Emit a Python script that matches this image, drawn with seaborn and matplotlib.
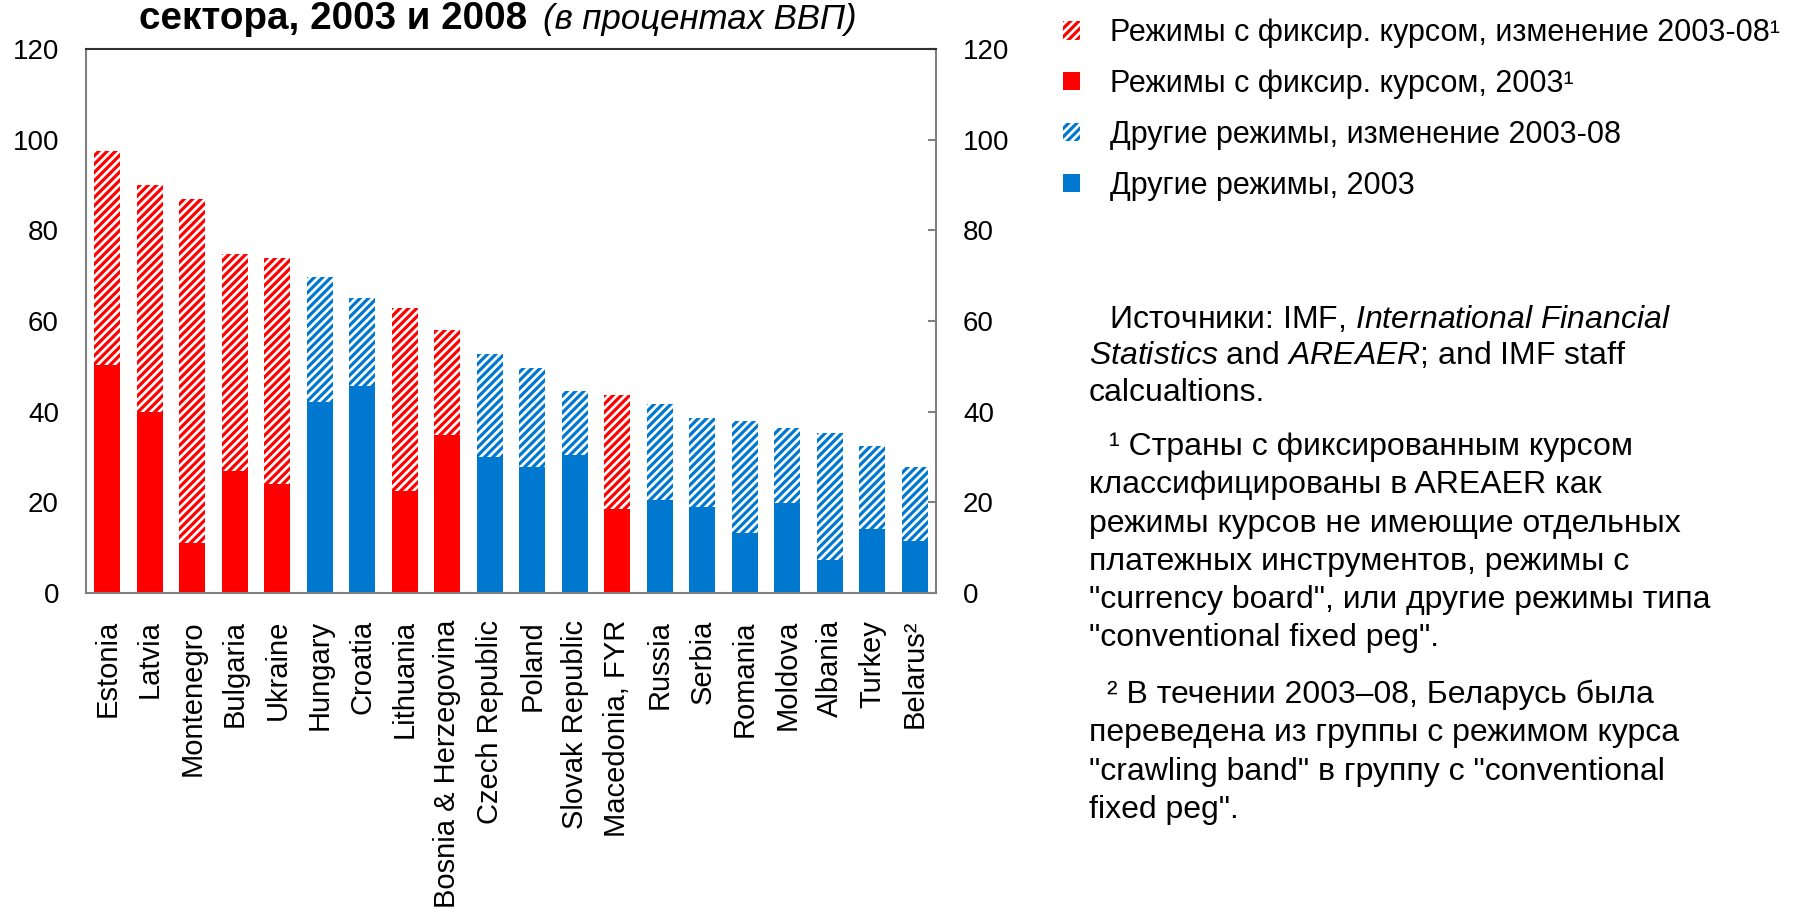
import matplotlib
matplotlib.use('Agg')
import matplotlib.pyplot as plt
from matplotlib.patches import Patch
import pandas as pd
import seaborn as sns

# data (percent of GDP)
countries = ['Estonia', 'Latvia', 'Montenegro', 'Bulgaria', 'Ukraine', 'Hungary', 'Croatia',
             'Lithuania', 'Bosnia & Herzegovina', 'Czech Republic', 'Poland', 'Slovak Republic',
             'Macedonia, FYR', 'Russia', 'Serbia', 'Romania', 'Moldova', 'Albania', 'Turkey',
             'Belarus²']
regimes = ['fixed', 'fixed', 'fixed', 'fixed', 'fixed', 'other', 'other', 'fixed', 'fixed',
           'other', 'other', 'other', 'fixed', 'other', 'other', 'other', 'other', 'other',
           'other', 'other']
credit_2003 = [50.3, 39.9, 11.1, 26.9, 24.1, 42.1, 45.6, 22.6, 34.9, 30.1,
               27.9, 30.5, 18.6, 20.6, 19.0, 13.3, 19.9, 7.2, 14.2, 11.4]
credit_2008 = [97.4, 90.1, 87.0, 74.7, 74.0, 69.8, 65.0, 62.8, 58.1, 52.7,
               49.7, 44.5, 43.6, 41.6, 38.7, 37.9, 36.5, 35.2, 32.4, 27.7]
y_ticks = [0, 20, 40, 60, 80, 100, 120]

legend_labels = ['Режимы с фиксир. курсом, изменение 2003-08¹',
                 'Режимы с фиксир. курсом, 2003¹',
                 'Другие режимы, изменение 2003-08',
                 'Другие режимы, 2003']

title_bold = 'сектора, 2003 и 2008'
title_italic = '(в процентах ВВП)'

notes = [
    (1109, 319, r'Источники: IMF, $\mathit{International\ Financial}$'),
    (1089, 356, r'$\mathit{Statistics}$ and $\mathit{AREAER}$; and IMF staff'),
    (1089, 393, 'calcualtions.'),
    (1109, 447, '¹ Страны с фиксированным курсом'),
    (1089, 485, 'классифицированы в AREAER как'),
    (1089, 524, 'режимы курсов не имеющие отдельных'),
    (1089, 562, 'платежных инструментов, режимы с'),
    (1089, 600, '"currency board", или другие режимы типа'),
    (1089, 638, '"conventional fixed peg".'),
    (1107, 695, '² В течении 2003–08, Беларусь была'),
    (1089, 733, 'переведена из группы с режимом курса'),
    (1089, 772, '"crawling band" в группу с "conventional'),
    (1089, 810, 'fixed peg".'),
]

RED = '#FF0000'
BLUE = '#0078D0'
SPINE = '#808080'
W, H = 1817, 914

sns.set_style('white')
plt.rcParams['font.family'] = ['Liberation Sans', 'DejaVu Sans']
plt.rcParams['text.color'] = 'black'
plt.rcParams['mathtext.fontset'] = 'custom'
plt.rcParams['mathtext.rm'] = 'Liberation Sans'
plt.rcParams['mathtext.it'] = 'Liberation Sans:italic'
plt.rcParams['hatch.linewidth'] = 2.3

df = pd.DataFrame({'country': countries, 'regime': regimes,
                   'y2003': credit_2003, 'y2008': credit_2008})
palette = {'fixed': RED, 'other': BLUE}

fig = plt.figure(figsize=(W / 100, H / 100), dpi=100)
ax = fig.add_axes([86 / W, 1 - 593 / H, (936 - 86) / W, (593 - 49) / H])

# full 2008 level drawn hatched, 2003 level drawn solid on top
sns.barplot(data=df, x='country', y='y2008', hue='regime', order=countries,
            hue_order=['fixed', 'other'], palette=palette, dodge=False, width=0.62,
            saturation=1, legend=False, linewidth=0, ax=ax)
for p in ax.patches:
    c = p.get_facecolor()
    p.set_facecolor('white')
    p.set_edgecolor(c)
    p.set_hatch('////')
    p.set_linewidth(0)
sns.barplot(data=df, x='country', y='y2003', hue='regime', order=countries,
            hue_order=['fixed', 'other'], palette=palette, dodge=False, width=0.62,
            saturation=1, legend=False, linewidth=0, ax=ax)

ax.set_xlim(-0.5, len(countries) - 0.5)
ax.set_ylim(0, 120)
ax.set_yticks(y_ticks)
ax.set_xlabel('')
ax.set_ylabel('')
ax.set_xticks(range(len(countries)))
ax.set_xticklabels(countries)
ax.set_xticks([i + 0.5 for i in range(len(countries) - 1)], minor=True)

ax.tick_params(axis='y', left=False, right=True, labelleft=True, labelright=True,
               direction='in', length=6, width=1.5, color=SPINE, labelcolor='black',
               labelsize=20, pad=19.5)
ax.tick_params(axis='x', which='major', length=0, labelsize=21, labelrotation=90,
               labelcolor='black', pad=19.5)
ax.tick_params(axis='x', which='minor', direction='in', length=6, width=1.5, color=SPINE)

for name, sp in ax.spines.items():
    sp.set_visible(True)
    sp.set_color(SPINE)
    sp.set_linewidth(1.5)
ax.spines['top'].set_color('#303030')

# title: bold part + italic part side by side
fig.text(139 / W, 1 - 29 / H, title_bold, fontsize=27.8, fontweight='bold',
         ha='left', va='baseline')
fig.text(543 / W, 1 - 29 / H, title_italic, fontsize=25, style='italic',
         ha='left', va='baseline')

handles = [Patch(facecolor='white', edgecolor=RED, hatch='////', linewidth=0),
           Patch(facecolor=RED, linewidth=0),
           Patch(facecolor='white', edgecolor=BLUE, hatch='////', linewidth=0),
           Patch(facecolor=BLUE, linewidth=0)]
fig.legend(handles, legend_labels, loc='upper left', bbox_to_anchor=(1051 / W, 1 - 6 / H),
           frameon=False, fontsize=22, handlelength=0.55, handleheight=0.55,
           handletextpad=0.98, labelspacing=0.68, borderaxespad=0)

for x, y, s in notes:
    fig.text(x / W, 1 - y / H, s, fontsize=23, ha='left', va='center')

fig.savefig('out.png', dpi=100)
